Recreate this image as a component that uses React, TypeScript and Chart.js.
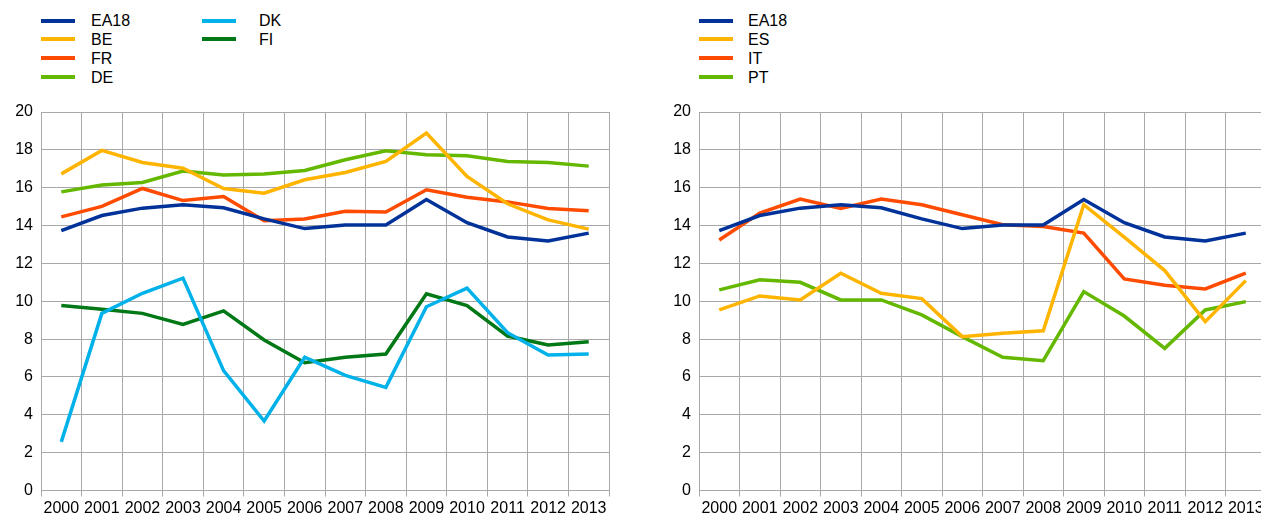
import React, { useEffect, useRef } from "react";
import { Chart, registerables } from "chart.js";

Chart.register(...registerables);

const years = ["2000", "2001", "2002", "2003", "2004", "2005", "2006", "2007", "2008", "2009", "2010", "2011", "2012", "2013"];
const yTicks = [0, 2, 4, 6, 8, 10, 12, 14, 16, 18, 20];

const ea18 = [13.73, 14.53, 14.92, 15.1, 14.94, 14.35, 13.84, 14.03, 14.03, 15.38, 14.15, 13.4, 13.19, 13.6];
const be = [16.73, 17.97, 17.33, 17.03, 15.96, 15.71, 16.42, 16.8, 17.39, 18.89, 16.59, 15.15, 14.3, 13.81];
const fr = [14.46, 15.01, 15.96, 15.32, 15.53, 14.25, 14.35, 14.76, 14.71, 15.89, 15.5, 15.25, 14.9, 14.78];
const de = [15.78, 16.14, 16.28, 16.88, 16.67, 16.73, 16.91, 17.48, 17.95, 17.74, 17.69, 17.39, 17.33, 17.14];
const dk = [2.57, 9.36, 10.42, 11.22, 6.33, 3.67, 7.04, 6.08, 5.45, 9.71, 10.69, 8.34, 7.16, 7.21];
const fi = [9.77, 9.58, 9.36, 8.78, 9.49, 7.95, 6.75, 7.04, 7.21, 10.39, 9.77, 8.16, 7.69, 7.86];

const es = [9.54, 10.28, 10.07, 11.48, 10.42, 10.14, 8.13, 8.31, 8.44, 15.1, 13.39, 11.62, 8.92, 11.09];
const it = [13.24, 14.66, 15.4, 14.9, 15.4, 15.1, 14.57, 14.04, 13.95, 13.6, 11.18, 10.85, 10.65, 11.48];
const pt = [10.6, 11.13, 11.0, 10.07, 10.07, 9.28, 8.13, 7.04, 6.86, 10.51, 9.22, 7.51, 9.54, 9.98];

const C_EA = "#003299";
const C_OR = "#FFB400";
const C_RD = "#FF4B00";
const C_GR = "#65B800";
const C_LB = "#00B1EA";
const C_DG = "#007816";

type Series = { label: string; data: number[]; color: string };

const leftSeries: Series[] = [
  { label: "EA18", data: ea18, color: C_EA },
  { label: "BE", data: be, color: C_OR },
  { label: "FR", data: fr, color: C_RD },
  { label: "DE", data: de, color: C_GR },
  { label: "DK", data: dk, color: C_LB },
  { label: "FI", data: fi, color: C_DG },
];

const rightSeries: Series[] = [
  { label: "EA18", data: ea18, color: C_EA },
  { label: "ES", data: es, color: C_OR },
  { label: "IT", data: it, color: C_RD },
  { label: "PT", data: pt, color: C_GR },
];

const FONT = "'Liberation Sans', Arial, sans-serif";
const GRID = "#a8a8a8";
const FS = 16;

function LineChart({ series, left, width, yAxisWidth, padRight }: { series: Series[]; left: number; width: number; yAxisWidth: number; padRight: number }) {
  const ref = useRef<HTMLCanvasElement | null>(null);
  useEffect(() => {
    if (!ref.current) return;
    const chart = new Chart(ref.current, {
      type: "line",
      data: {
        labels: years,
        datasets: series.map((s) => ({
          label: s.label,
          data: s.data,
          borderColor: s.color,
          backgroundColor: s.color,
          borderWidth: 3.5,
          pointRadius: 0,
          tension: 0,
          fill: false,
        })),
      },
      options: {
        animation: false,
        responsive: false,
        maintainAspectRatio: false,
        layout: { padding: { top: 112, right: padRight, left: 0, bottom: 0 } },
        plugins: { legend: { display: false }, tooltip: { enabled: false } },
        scales: {
          x: {
            offset: true,
            grid: { offset: true, color: GRID, lineWidth: 1, tickLength: 6, drawTicks: true },
            border: { color: GRID, width: 1 },
            ticks: { autoSkip: false, maxRotation: 0, minRotation: 0, color: "#000", padding: 2, font: { family: FONT, size: FS } },
            afterFit: (scale: any) => { scale.height = 22.5; },
          },
          y: {
            min: 0,
            max: 20,
            afterBuildTicks: (scale: any) => { scale.ticks = yTicks.map((v) => ({ value: v })); },
            grid: { color: GRID, lineWidth: 1, drawTicks: false },
            border: { color: GRID, width: 1 },
            ticks: { color: "#000", padding: 8, font: { family: FONT, size: FS } },
            afterFit: (scale: any) => { scale.width = yAxisWidth; },
          },
        },
      },
    });
    return () => chart.destroy();
  }, []);
  return (
    <canvas ref={ref} width={width} height={513} style={{ position: "absolute", left, top: 0, width, height: 513 }} />
  );
}

function Legend({ items, left, gapText, colWidth, rows }: { items: Series[]; left: number; gapText: number[]; colWidth: number; rows: number }) {
  return (
    <>
      {items.map((s, i) => {
        const col = Math.floor(i / rows);
        const row = i % rows;
        const x = left + col * colWidth;
        const y = 11 + row * 18.9;
        return (
          <div key={s.label + i} style={{ position: "absolute", left: x, top: y, height: 19, display: "flex", alignItems: "center" }}>
            <div style={{ width: 34, height: 4, background: s.color }} />
            <div style={{ marginLeft: gapText[col], fontFamily: FONT, fontSize: FS, color: "#000", lineHeight: "19px" }}>{s.label}</div>
          </div>
        );
      })}
    </>
  );
}

export default function App() {
  return (
    <div style={{ position: "fixed", left: 0, top: 0, width: 1261, height: 513, overflow: "hidden", background: "#fff" }}>
      <Legend items={leftSeries} left={41} gapText={[16, 23]} colWidth={161} rows={4} />
      <Legend items={rightSeries} left={699} gapText={[15]} colWidth={161} rows={4} />
      <LineChart series={leftSeries} left={0} width={620} yAxisWidth={41} padRight={11} />
      <LineChart series={rightSeries} left={660} width={610} yAxisWidth={39} padRight={4} />
    </div>
  );
}
